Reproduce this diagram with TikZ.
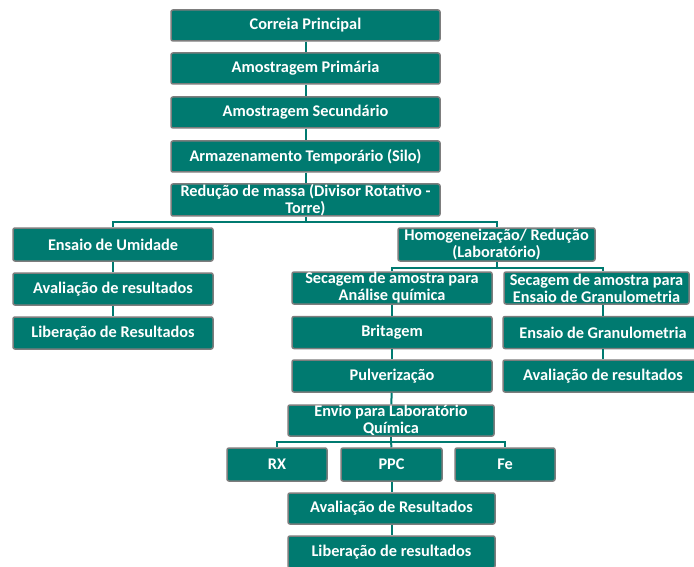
\documentclass[tikz,border=0pt]{standalone}
\usepackage{fontspec}
\setmainfont{Carlito}
\definecolor{boxteal}{RGB}{0,122,112}
\definecolor{boxgray}{RGB}{125,125,125}
\tikzset{
  etapa/.style={rectangle, rounded corners=2pt, fill=boxteal, draw=boxgray, line width=1.5pt,
    text=white, font=\bfseries\fontsize{16.3}{17}\selectfont, align=center, inner sep=0pt,
    minimum width=200pt, minimum height=32pt},
  liga/.style={draw=boxteal, line width=2pt}
}
\begin{document}
\begin{tikzpicture}[x=1pt,y=-1pt]
\useasboundingbox (0,0) rectangle (694,567);

% tronco principal
\node[etapa, minimum width=269pt, minimum height=31pt] (correia) at (305.5,25.5) {Correia Principal};
\node[etapa, minimum width=269pt, minimum height=31pt] (primaria) at (305.5,68.5) {Amostragem Primária};
\node[etapa, minimum width=269pt, minimum height=31pt] (secundaria) at (305.5,112.5) {Amostragem Secundário};
\node[etapa, minimum width=269pt, minimum height=31pt] (silo) at (305.5,156.5) {Armazenamento Temporário (Silo)};
\node[etapa, minimum width=269pt] (reducao) at (305.5,200) {Redução de massa (Divisor Rotativo -\\Torre)};

% umidade
\node[etapa, minimum height=33pt] (umidade) at (113,244.5) {Ensaio de Umidade};
\node[etapa] (avalU) at (113,289) {Avaliação de resultados};
\node[etapa] (liberU) at (113,333) {Liberação de Resultados};

% laboratorio
\node[etapa, minimum width=197pt, minimum height=33pt] (homog) at (496.5,244.5) {Homogeneização/ Redução\\(Laboratório)};
\node[etapa] (secQ) at (392,288) {Secagem de amostra para\\Análise química};
\node[etapa, minimum width=185pt] (secG) at (596.5,288) {Secagem de amostra para\\Ensaio de Granulometria};
\node[etapa] (britagem) at (392,332.5) {Britagem};
\node[etapa] (pulv) at (392,376) {Pulverização};
\node[etapa] (ensGran) at (603,332.5) {Ensaio de Granulometria};
\node[etapa] (avalG) at (603,376) {Avaliação de resultados};

% quimica
\node[etapa, minimum width=206pt, minimum height=31pt] (envio) at (391,420.5) {Envio para Laboratório\\Química};
\node[etapa, minimum width=100pt, minimum height=33pt] (rx) at (277,464.5) {RX};
\node[etapa, minimum width=101pt, minimum height=33pt] (ppc) at (391.5,464.5) {PPC};
\node[etapa, minimum width=100pt, minimum height=33pt] (fe) at (505,464.5) {Fe};
\node[etapa, minimum width=207pt, minimum height=31pt] (avalQ) at (391.5,508.5) {Avaliação de Resultados};
\node[etapa, minimum width=207pt] (liberQ) at (391.5,552) {Liberação de resultados};

\coordinate (bar1) at (305.5,222);
\coordinate (bar2) at (496.5,268);
\coordinate (bar3) at (391,442);

\draw[liga] (correia) -- (primaria);
\draw[liga] (primaria) -- (secundaria);
\draw[liga] (secundaria) -- (silo);
\draw[liga] (silo) -- (reducao);
\draw[liga] (reducao.south) -- (bar1) -| (umidade.north);
\draw[liga] (bar1) -| (homog.north);
\draw[liga] (umidade) -- (avalU);
\draw[liga] (avalU) -- (liberU);
\draw[liga] (homog.south) -- (bar2) -| (secQ.north);
\draw[liga] (bar2) -| (secG.north -| ensGran.north);
\draw[liga] (secQ) -- (britagem);
\draw[liga] (britagem) -- (pulv);
\draw[liga] (pulv) -- (envio);
\draw[liga] (secG.south -| ensGran.north) -- (ensGran);
\draw[liga] (ensGran) -- (avalG);
\draw[liga] (envio.south) -- (bar3) -| (rx.north);
\draw[liga] (bar3) -| (fe.north);
\draw[liga] (bar3) -- (ppc.north);
\draw[liga] (ppc) -- (avalQ);
\draw[liga] (avalQ) -- (liberQ);
\end{tikzpicture}
\end{document}
